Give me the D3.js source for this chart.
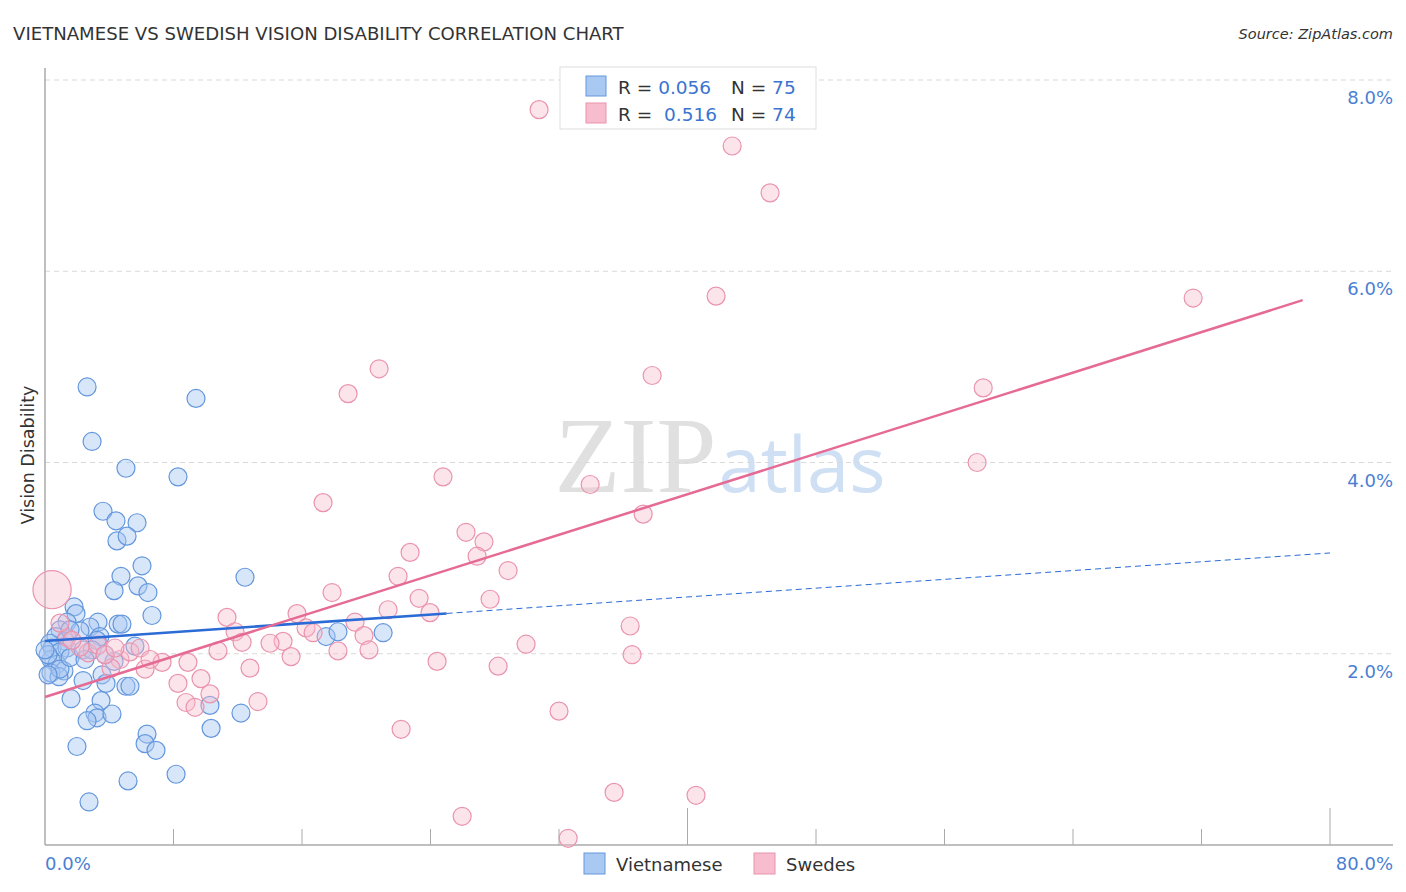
<!DOCTYPE html>
<html lang="en">
<head>
<meta charset="UTF-8">
<title>Vietnamese vs Swedish Vision Disability Correlation Chart</title>
<script src="https://d3js.org/d3.v7.min.js"></script>
<style>
  body { margin: 0; background: #fff; font-family: "DejaVu Sans", "Open Sans", Arial, sans-serif; }
  svg { display: block; }
  .grid line { stroke: #d9d9d9; stroke-dasharray: 5 4; }
  .tick-label { fill: #4a7fd4; font-size: 18px; }
</style>
</head>
<body>
<svg id="chart" width="1406" height="892"></svg>
<script>
// values in percent: [x, y]
const vietnamese = [
  [2.62,4.79],[9.40,4.67],[2.93,4.22],[5.04,3.94],[8.28,3.85],[3.61,3.49],[4.42,3.39],[5.73,3.37],
  [4.48,3.18],[5.11,3.23],[6.04,2.92],[4.73,2.81],[12.45,2.80],[5.79,2.71],[4.30,2.66],[6.41,2.64],
  [6.66,2.40],[1.81,2.49],[1.93,2.42],[3.30,2.33],[4.55,2.31],[4.79,2.31],[1.37,2.33],[2.80,2.28],
  [0.93,2.25],[0.68,2.18],[2.18,2.24],[3.42,2.18],[3.24,2.14],[1.25,2.13],[0.31,2.11],[0.44,2.06],
  [1.37,2.06],[0.93,2.02],[0.37,1.94],[0.75,1.89],[0.19,1.99],[1.18,1.82],[0.37,1.80],[0.87,1.76],
  [3.55,1.78],[2.37,1.72],[3.80,1.69],[5.04,1.66],[5.29,1.66],[3.49,1.51],[1.62,1.53],[3.11,1.38],
  [3.24,1.33],[2.62,1.30],[4.17,1.37],[10.27,1.46],[12.20,1.38],[6.35,1.16],[6.23,1.06],[6.91,0.99],
  [10.34,1.22],[1.99,1.03],[8.16,0.74],[5.17,0.67],[2.74,0.45],[17.50,2.18],[18.24,2.23],[21.05,2.22],
  [5.60,2.08],[4.30,1.92],[0.93,1.84],[1.56,1.96],[0.00,2.04],[2.37,2.04],[2.93,2.04],[3.74,1.99],
  [0.19,1.78],[2.49,1.94],[1.56,2.25]
];
const swedes = [
  [30.76,7.69],[42.78,7.31],[45.14,6.82],[41.78,5.74],[71.48,5.72],[20.80,4.98],[37.80,4.91],[18.87,4.72],
  [58.41,4.78],[58.03,4.00],[24.78,3.85],[33.94,3.77],[17.31,3.58],[37.24,3.46],[26.21,3.27],[27.33,3.17],
  [22.73,3.06],[26.90,3.02],[28.83,2.87],[21.98,2.81],[17.87,2.64],[23.29,2.58],[27.71,2.57],[15.69,2.42],
  [11.33,2.38],[21.36,2.46],[23.97,2.43],[19.30,2.33],[36.43,2.29],[11.83,2.23],[16.25,2.27],[16.69,2.22],
  [19.86,2.19],[14.82,2.13],[14.01,2.11],[12.27,2.12],[29.95,2.10],[18.24,2.03],[20.17,2.04],[15.32,1.97],
  [10.77,2.03],[36.55,1.99],[24.41,1.92],[28.21,1.87],[12.76,1.85],[7.29,1.91],[6.23,1.84],[8.90,1.91],
  [4.67,1.94],[4.11,1.85],[5.29,2.02],[5.92,2.06],[2.68,2.01],[3.30,2.09],[1.37,2.17],[2.18,2.07],
  [8.28,1.69],[9.71,1.74],[10.27,1.58],[8.78,1.49],[9.34,1.44],[13.26,1.50],[32.00,1.40],[22.17,1.21],
  [35.43,0.55],[40.53,0.52],[25.97,0.30],[32.57,0.07],[0.44,2.67],[0.93,2.32],[1.68,2.14],[3.74,1.99],
  [4.36,2.06],[6.54,1.94]
];
// relative sample weight per point (one heavy Swedes point near the axis)
const swedesWeight = swedes.map((d, i) => i === 68 ? 4.5 : 1);

// trend lines: intercept a, slope b, solid up to xEnd
const vietTrend = { a: 2.134, b: 0.0115, xEnd: 25.0 };
const swedTrend = { a: 1.548, b: 0.053, xEnd: 78.3 };

const legendRows = [
  { name: "Vietnamese", r: "0.056", n: "75" },
  { name: "Swedes", r: " 0.516", n: "74" }
];
const yTicks = [2, 4, 6, 8];
const xTicks = d3.range(0, 81, 8);

const plotLeft = 45, plotRight = 1393, plotTop = 80, plotBottom = 845;
const svg = d3.select("#chart");

const x = d3.scaleLinear().domain([0, 80]).range([plotLeft, 1330]);
const y = d3.scaleLinear().domain([0, 8]).range([plotBottom, plotTop]);
const rScale = d3.scaleSqrt().domain([0, 1]).range([0, 9]);

const col = {
  vFill: "#a9c8f2", vStroke: "#6497dd", vLine: "#2a6bd6",
  sFill: "#f7bccd", sStroke: "#ea94ae", sLine: "#e56b95"
};

// title and source
svg.append("text").attr("x", 13).attr("y", 40)
  .attr("font-size", 18.1).attr("fill", "#333")
  .text("VIETNAMESE VS SWEDISH VISION DISABILITY CORRELATION CHART");
svg.append("text").attr("x", plotRight).attr("y", 39).attr("text-anchor", "end")
  .attr("font-size", 14.5).attr("font-style", "italic").attr("fill", "#333")
  .text("Source: ZipAtlas.com");

// watermark
const wm = svg.append("text").attr("x", 720).attr("y", 492).attr("text-anchor", "middle");
wm.append("tspan").text("ZIP").attr("font-family", "'Liberation Serif', serif")
  .attr("font-size", 108).attr("fill", "#e0e0e0");
wm.append("tspan").text("atlas").attr("font-family", "'Open Sans', sans-serif")
  .attr("font-size", 76).attr("fill", "#cfe0f5").attr("dx", 2);

// gridlines
svg.append("g").attr("class", "grid")
  .selectAll("line").data(yTicks).join("line")
  .attr("x1", plotLeft).attr("x2", plotRight)
  .attr("y1", d => y(d)).attr("y2", d => y(d));

svg.append("g").selectAll("text").data(yTicks).join("text")
  .attr("class", "tick-label")
  .attr("x", plotRight).attr("y", d => y(d) + 24).attr("text-anchor", "end")
  .text(d => d.toFixed(1) + "%");

// axes
svg.append("line").attr("x1", plotLeft).attr("x2", plotLeft).attr("y1", 68).attr("y2", plotBottom)
  .attr("stroke", "#aaa").attr("stroke-width", 1.5);
svg.append("line").attr("x1", plotLeft).attr("x2", plotRight).attr("y1", plotBottom).attr("y2", plotBottom)
  .attr("stroke", "#aaa").attr("stroke-width", 1.5);
svg.append("g").selectAll("line").data(xTicks.slice(1)).join("line")
  .attr("x1", d => x(d)).attr("x2", d => x(d))
  .attr("y1", d => d % 40 === 0 ? 808 : 829).attr("y2", plotBottom)
  .attr("stroke", "#aaa").attr("stroke-width", 1);

svg.append("text").attr("class", "tick-label").attr("x", plotLeft).attr("y", 870).text("0.0%");
svg.append("text").attr("class", "tick-label").attr("x", plotRight).attr("y", 870)
  .attr("text-anchor", "end").text("80.0%");

svg.append("text").attr("transform", "translate(34,455) rotate(-90)")
  .attr("text-anchor", "middle").attr("font-size", 17.5).attr("fill", "#333")
  .text("Vision Disability");

// points
svg.append("g").selectAll("circle").data(vietnamese).join("circle")
  .attr("cx", d => x(d[0])).attr("cy", d => y(d[1])).attr("r", rScale(1))
  .attr("fill", col.vFill).attr("fill-opacity", 0.45)
  .attr("stroke", col.vStroke).attr("stroke-width", 1.2);

svg.append("g").selectAll("circle").data(swedes).join("circle")
  .attr("cx", d => x(d[0])).attr("cy", d => y(d[1])).attr("r", (d, i) => rScale(swedesWeight[i]))
  .attr("fill", col.sFill).attr("fill-opacity", 0.4)
  .attr("stroke", col.sStroke).attr("stroke-width", 1.2);

// trend lines
const f = (t, v) => t.a + t.b * v;
svg.append("line")
  .attr("x1", x(0)).attr("y1", y(f(vietTrend, 0)))
  .attr("x2", x(vietTrend.xEnd)).attr("y2", y(f(vietTrend, vietTrend.xEnd)))
  .attr("stroke", col.vLine).attr("stroke-width", 2.5);
svg.append("line")
  .attr("x1", x(vietTrend.xEnd)).attr("y1", y(f(vietTrend, vietTrend.xEnd)))
  .attr("x2", x(80)).attr("y2", y(f(vietTrend, 80)))
  .attr("stroke", col.vLine).attr("stroke-width", 1).attr("stroke-dasharray", "6 4");
svg.append("line")
  .attr("x1", x(0)).attr("y1", y(f(swedTrend, 0)))
  .attr("x2", x(swedTrend.xEnd)).attr("y2", y(f(swedTrend, swedTrend.xEnd)))
  .attr("stroke", col.sLine).attr("stroke-width", 2.5);

// legend box
const lg = svg.append("g").attr("transform", "translate(560,67)");
lg.append("rect").attr("width", 256).attr("height", 62)
  .attr("fill", "#fff").attr("stroke", "#ddd");
legendRows.forEach((row, i) => {
  const g = lg.append("g").attr("transform", `translate(26,${9 + i * 27})`);
  g.append("rect").attr("width", 20).attr("height", 20)
    .attr("fill", i ? col.sFill : col.vFill).attr("stroke", i ? col.sStroke : col.vStroke);
  const t = g.append("text").attr("x", 32).attr("y", 18).attr("font-size", 18.5).attr("xml:space", "preserve");
  t.append("tspan").attr("fill", "#333").text("R = ");
  t.append("tspan").attr("fill", "#3a74d0").text(row.r);
  t.append("tspan").attr("fill", "#333").attr("x", 145).text("N = ");
  t.append("tspan").attr("fill", "#3a74d0").text(row.n);
});

// bottom legend
const bl = svg.append("g").attr("transform", "translate(584,853)");
legendRows.forEach((row, i) => {
  const g = bl.append("g").attr("transform", `translate(${i * 170},0)`);
  g.append("rect").attr("width", 21).attr("height", 21)
    .attr("fill", i ? col.sFill : col.vFill).attr("stroke", i ? col.sStroke : col.vStroke);
  g.append("text").attr("x", 32).attr("y", 18).attr("font-size", 18).attr("fill", "#333").text(row.name);
});
</script>
</body>
</html>
